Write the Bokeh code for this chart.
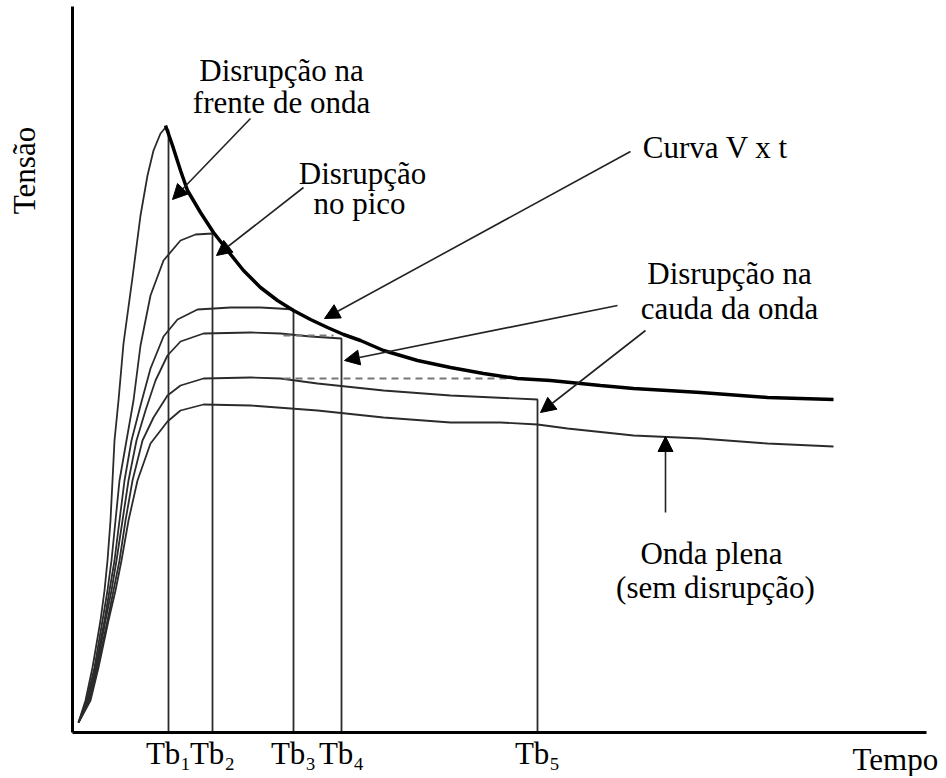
import math
from bokeh.plotting import figure
from bokeh.models import (ColumnDataSource, Range1d, FixedTicker, Arrow, NormalHead)
from bokeh.core.properties import value
from bokeh.embed import file_html
from bokeh.resources import INLINE

# ---------------- data (time / voltage, arbitrary units) ----------------
tb_times = [96, 140, 221, 269, 465]
tb_labels = ["Tb\u2081", "Tb\u2082", "Tb\u2083", "Tb\u2084", "Tb\u2085"]

# V x t curve
vt_t = [93, 100, 108, 115, 128, 141, 155, 171, 188, 205, 221, 238, 255, 271, 288,
        311, 345, 378, 411, 445, 478, 528, 561, 595, 628, 695, 761]
vt_v = [607, 587, 562, 542, 520, 500, 482, 462, 445, 432, 422, 413, 405, 398, 392,
        382, 372, 365, 359, 354, 352, 347, 344, 342, 340, 335, 333]

# wave chopped on the front (Tb1)
w1_t = [6, 13, 20, 28, 32, 35, 38, 40, 42, 46, 51, 60, 68, 75, 81, 88, 93, 96, 96]
w1_v = [10, 32, 65, 112, 142, 172, 212, 252, 292, 332, 389, 455, 517, 557, 582, 599, 605, 602, 0]

# wave chopped at the peak (Tb2)
w2_t = [6, 14, 22, 30, 35, 39, 43, 47, 54, 61, 68, 78, 91, 108, 123, 140, 140]
w2_v = [10, 32, 65, 112, 142, 172, 212, 252, 292, 332, 387, 437, 472, 492, 498, 499, 0]

# wave chopped on the tail (Tb3)
w3_t = [6, 15, 23, 32, 37, 42, 47, 52, 59, 68, 78, 91, 105, 125, 158, 188, 206, 221, 221]
w3_v = [10, 32, 65, 112, 142, 172, 212, 252, 292, 327, 364, 396, 413, 423, 425, 425, 424, 423, 0]

# wave chopped on the tail (Tb4)
w4_t = [6, 16, 24, 33, 39, 44, 50, 56, 64, 73, 83, 95, 108, 131, 178, 208, 238, 269, 269]
w4_v = [10, 32, 65, 112, 142, 172, 212, 252, 292, 322, 352, 377, 391, 399, 400, 399, 396, 394, 0]

# wave chopped on the tail (Tb5)
w5_t = [6, 17, 25, 35, 41, 47, 53, 60, 70, 81, 95, 108, 131, 178, 208, 245, 311, 378, 465, 465]
w5_v = [10, 32, 65, 112, 142, 172, 212, 252, 292, 315, 337, 347, 354, 355, 354, 349, 342, 337, 333, 0]

# full wave (no disruption)
w6_t = [6, 18, 26, 36, 43, 49, 56, 65, 78, 95, 108, 131, 178, 245, 311, 378, 428, 465,
        495, 561, 628, 695, 761]
w6_v = [10, 32, 65, 112, 142, 172, 212, 252, 289, 311, 322, 328, 327, 322, 315, 310, 310, 308,
        304, 297, 294, 289, 286]

# dashed projections of peak values
dash_x0 = [211, 211]
dash_x1 = [438, 261]
dash_v = [354, 397]

# annotation texts
ann_text = ["Disrupção na", "frente de onda", "Disrupção", "no pico", "Curva V x t",
            "Disrupção na", "cauda da onda", "Onda plena", "(sem disrupção)"]
ann_t = [209, 209, 290, 287, 643, 657, 657, 639, 643]
ann_v = [662, 630, 559, 529, 585, 459, 424, 179, 145]

# arrows (start -> tip)
arr_t0 = [178, 231, 558, 545, 573, 593]
arr_v0 = [614, 545, 581, 427, 402, 220]
arr_t1 = [100, 144, 252, 272, 468, 593]
arr_v1 = [533, 477, 414, 372, 320, 296]

x_title, x_title_t, x_title_v = "Tempo", 780, -27
y_title, y_title_t, y_title_v = "Tensão", -48, 562

FONT = "Liberation Serif"
FS = "31px"

p = figure(width=940, height=776, output_backend="svg", toolbar_location=None,
           x_range=Range1d(-72, 868), y_range=Range1d(-44, 732),
           min_border_left=0, min_border_right=0, min_border_top=0, min_border_bottom=0)
p.outline_line_color = None
p.xgrid.visible = False
p.ygrid.visible = False
p.background_fill_color = "white"
p.border_fill_color = "white"

# axes (placed at the origin, limited in extent)
p.xaxis.fixed_location = 0
p.xaxis.bounds = (0, 854)
p.xaxis.ticker = FixedTicker(ticks=tb_times)
p.xaxis.major_label_overrides = {t: l for t, l in zip(tb_times, tb_labels)}
p.xaxis.major_tick_line_color = None
p.xaxis.minor_tick_line_color = None
p.xaxis.axis_line_width = 3
p.xaxis.axis_line_color = "black"
p.xaxis.major_label_text_font = FONT
p.xaxis.major_label_text_font_size = FS
p.xaxis.major_label_text_color = "black"
p.xaxis.major_label_standoff = -3

p.yaxis.fixed_location = 0
p.yaxis.bounds = (0, 726)
p.yaxis.ticker = FixedTicker(ticks=[])
p.yaxis.major_tick_line_color = None
p.yaxis.minor_tick_line_color = None
p.yaxis.axis_line_width = 3
p.yaxis.axis_line_color = "black"

# waves
for tt, vv in [(w1_t, w1_v), (w2_t, w2_v), (w3_t, w3_v), (w4_t, w4_v), (w5_t, w5_v), (w6_t, w6_v)]:
    p.line(tt, vv, line_color="#2b2b2b", line_width=1.8)

# dashed projections
p.segment(x0=dash_x0, y0=dash_v, x1=dash_x1, y1=dash_v, line_color="#777777",
          line_width=2, line_dash="7 5")

# V x t curve
p.line(vt_t, vt_v, line_color="black", line_width=3.5)

# arrows
asrc = ColumnDataSource(dict(x0=arr_t0, y0=arr_v0, x1=arr_t1, y1=arr_v1))
p.add_layout(Arrow(source=asrc, x_start="x0", y_start="y0", x_end="x1", y_end="y1",
                   line_color="#222222", line_width=1.6,
                   end=NormalHead(size=15, fill_color="black", line_color="black", line_width=1)))

# texts
tsrc = ColumnDataSource(dict(x=ann_t, y=ann_v, t=ann_text))
p.text(x="x", y="y", text="t", source=tsrc, text_font=value(FONT), text_font_size=value(FS),
       text_align="center", text_baseline="alphabetic", text_color="black")

# axis titles
p.text(x=[x_title_t], y=[x_title_v], text=[x_title], text_font=value(FONT),
       text_font_size=value(FS), text_align="left", text_baseline="alphabetic",
       text_color="black")
p.text(x=[y_title_t], y=[y_title_v], text=[y_title], angle=math.pi / 2, text_font=value(FONT),
       text_font_size=value(FS), text_align="center", text_baseline="middle",
       text_color="black")

open("out.html", "w").write(file_html(p, INLINE))
